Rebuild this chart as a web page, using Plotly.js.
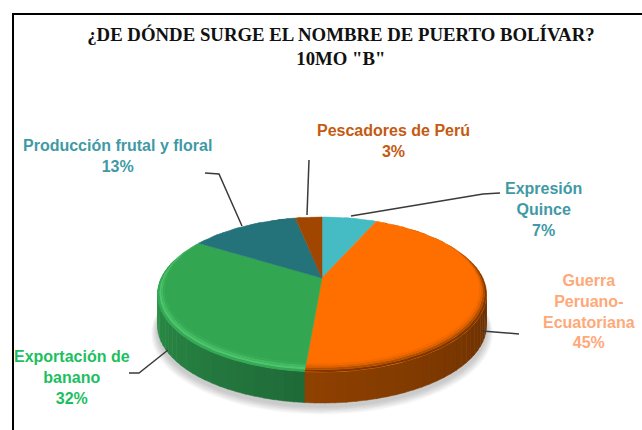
<!DOCTYPE html>
<html><head><meta charset="utf-8">
<script src="https://cdn.plot.ly/plotly-3.0.1.min.js"></script>
<style>html,body{margin:0;padding:0;background:#fff}#c{width:642px;height:430px}</style>
</head><body><div id="c"></div>
<script>
// Data
const categories = ['Expresión Quince','Guerra Peruano-Ecuatoriana','Exportación de banano','Producción frutal y floral','Pescadores de Perú'];
const values = [6.6,44.6,32.3,13,3.2];
const labelLines = ['Expresión<br>Quince','Guerra<br>Peruano-<br>Ecuatoriana','Exportación de<br>banano','Producción frutal y floral','Pescadores de Perú'];
// Styles
const topColors = ['#45bcc4','#ff6f00','#33a652','#24727a','#a04600'];
const sideStart = ['#2a7c82','#8f4100','#2f9a4c','#174d52','#6a2e00'];
const sideEnd   = ['#2a7c82','#5f2a00','#1f6a38','#174d52','#6a2e00'];
const rimBands  = [
  ['#45bcc4','#45bcc4','#45bcc4','#45bcc4'],
  ['#7f3700','#b04f00','#dc6100','#f56a00'],
  ['#36a956','#4dc56d','#43b963','#38ab57'],
  ['#24727a','#24727a','#24727a','#24727a'],
  ['#a04600','#a04600','#a04600','#a04600']];
const labelColors = ['#3f9aa5','#ffa878','#1cbf60','#3f9aa5','#c55a11'];
const labelPos = [[543,178],[589,270],[72,346],[117,135],[393,120]];
const leaders = [
  [[351,216],[483,194],[500,193]],
  [[482,331],[519,334]],
  [[168,350],[139,373],[129,373]],
  [[242,226],[219,174],[205,173]],
  [[307,215],[309,160]]];
// Projection of the tilted disc (perspective)
const cx=322, cy=278, sx=160.7, sy=74, k=0.213, depth=31;
function proj(theta,r,drop){
  const u=r*Math.sin(theta), v=r*Math.cos(theta), d=1+k*v;
  return [cx+sx*u/d, cy-sy*v/d+(drop||0)];
}
function rimW(theta){
  const v=Math.cos(theta);
  const t=Math.min(1,Math.max(0,(0.5-v)/1.5));
  return 0.075*Math.pow(t,0.7);
}
function hex(c){return [1,3,5].map(i=>parseInt(c.substr(i,2),16));}
function mix(a,b,t){const A=hex(a),B=hex(b);return 'rgb('+A.map((x,i)=>Math.round(x+(B[i]-x)*t)).join(',')+')';}
const traces=[];
function poly(pts,color){
  traces.push({type:'scatter',mode:'lines',x:pts.map(p=>p[0]),y:pts.map(p=>p[1]),fill:'toself',fillcolor:color,
    line:{color:color,width:0.5},hoverinfo:'skip',showlegend:false});
}
// Soft shadow
for(let s=0;s<6;s++){
  const pts=[];
  for(let a=0;a<=360;a+=4){const t=a*Math.PI/180;const p=proj(t,1+0.006*(6-s),depth+7-s*0.6);pts.push(p);}
  traces.push({type:'scatter',mode:'lines',x:pts.map(p=>p[0]),y:pts.map(p=>p[1]),fill:'toself',fillcolor:'rgba(0,0,0,0.035)',
    line:{width:0},hoverinfo:'skip',showlegend:false});
}
const total=values.reduce((a,b)=>a+b,0);
const starts=[];let acc=0;
values.forEach(v=>{starts.push(acc/total*2*Math.PI);acc+=v;});
const ends=values.map((v,i)=>starts[i]+v/total*2*Math.PI);
// Side wall, slightly shaded segment by segment
values.forEach((v,i)=>{
  const lo=Math.max(starts[i],Math.PI*0.42), hi=Math.min(ends[i],Math.PI*1.58);
  if(hi<=lo)return;
  const n=Math.ceil((hi-lo)/(3*Math.PI/180));
  for(let j=0;j<n;j++){
    const t0=lo+(hi-lo)*j/n,t1=lo+(hi-lo)*(j+1)/n+0.004;
    const tt=(j+0.5)/n;
    // orange darkens toward the right (start of its arc), green toward its start at the front
    const c=(i===1)?mix(sideEnd[i],sideStart[i],tt):mix(sideEnd[i],sideStart[i],tt);
    poly([proj(t0,1,0),proj(t1,1,0),proj(t1,1,depth),proj(t0,1,depth)],c);
  }
});
// Top slices
values.forEach((v,i)=>{
  const pts=[[cx,cy]];
  const n=Math.max(6,Math.ceil((ends[i]-starts[i])/(1.5*Math.PI/180)));
  for(let j=0;j<=n;j++)pts.push(proj(starts[i]+(ends[i]-starts[i])*j/n,1));
  pts.push([cx,cy]);
  poly(pts,topColors[i]);
});
// Bevel rim
values.forEach((v,i)=>{
  const n=Math.max(6,Math.ceil((ends[i]-starts[i])/(1.5*Math.PI/180)));
  rimBands[i].forEach((col,b)=>{
    const outer=[],inner=[];
    for(let j=0;j<=n;j++){
      const t=starts[i]+(ends[i]-starts[i])*j/n,w=rimW(t);
      outer.push(proj(t,1-w*b/4));
      inner.push(proj(t,1-w*(b+1)/4));
    }
    const ring=outer.concat(inner.reverse());
    traces.push({type:'scatter',mode:'lines',x:ring.map(p=>p[0]),y:ring.map(p=>p[1]),
      fill:'toself',fillcolor:col,line:{width:0},hoverinfo:'skip',showlegend:false});
  });
});
// Leader lines
leaders.forEach(l=>{
  traces.push({type:'scatter',mode:'lines',x:l.map(p=>p[0]),y:l.map(p=>p[1]),line:{color:'#3a3a3a',width:1.5},hoverinfo:'skip',showlegend:false});
});
const annotations=values.map((v,i)=>({
  x:labelPos[i][0],y:labelPos[i][1],xref:'x',yref:'y',xanchor:'center',yanchor:'top',showarrow:false,align:'center',
  text:(labelLines[i]+'<br>'+Math.round(v)+'%').split('<br>').map(s=>'<b>'+s+'</b>').join('<br>'),
  font:{family:'"Liberation Sans",Arial,sans-serif',size:16,color:labelColors[i]}
}));
const layout={
  width:642,height:430,margin:{l:0,r:0,t:0,b:0},paper_bgcolor:'#fff',plot_bgcolor:'#fff',showlegend:false,
  title:{text:'<b>¿DE DÓNDE SURGE EL NOMBRE DE PUERTO BOLÍVAR?<br>10MO "B"</b>',x:0.531,xanchor:'center',y:0.905,yanchor:'top',
    font:{family:'"Liberation Serif","Times New Roman",serif',size:18.8,color:'#111'}},
  xaxis:{range:[0,642],visible:false,fixedrange:true},
  yaxis:{range:[430,0],visible:false,fixedrange:true},
  annotations:annotations,
  shapes:[
    {type:'line',xref:'x',yref:'y',x0:12,x1:642,y0:14,y1:14,line:{color:'#000',width:2}},
    {type:'line',xref:'x',yref:'y',x0:13,x1:13,y0:14,y1:430,line:{color:'#000',width:2}}
  ]
};
Plotly.newPlot('c',traces,layout,{displayModeBar:false,staticPlot:true});
</script></body></html>
